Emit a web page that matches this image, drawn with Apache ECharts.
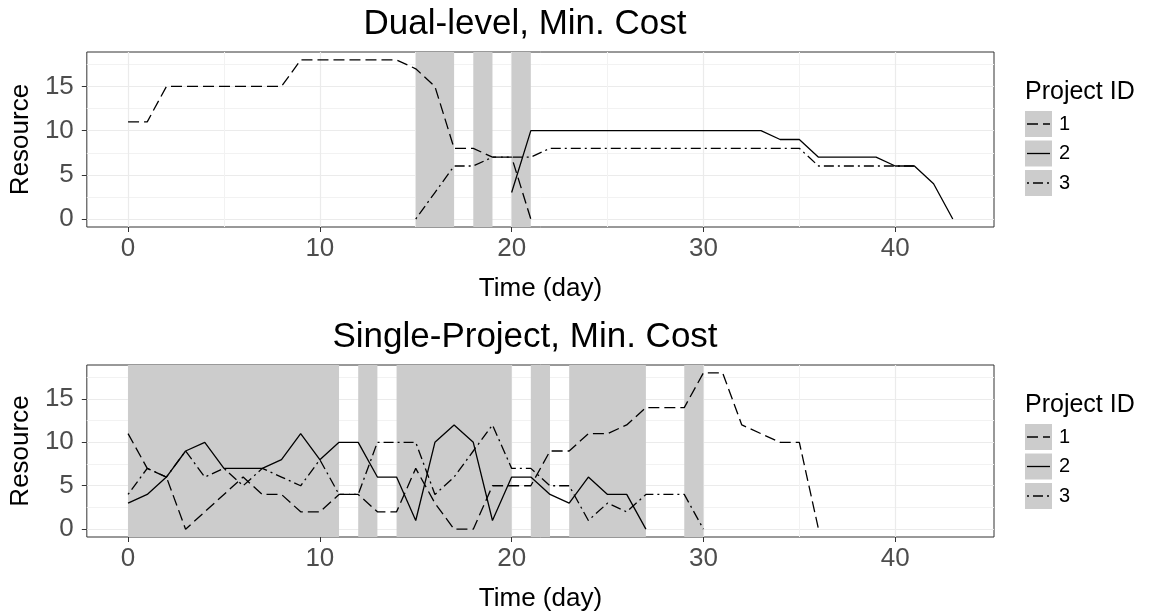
<!DOCTYPE html>
<html>
<head>
<meta charset="utf-8">
<script src="https://cdn.jsdelivr.net/npm/echarts@6/dist/echarts.min.js"></script>
<style>
  html, body { margin: 0; padding: 0; background: #fff; }
  #chart { width: 1151px; height: 613px; }
</style>
</head>
<body>
<div id="chart"></div>
<script>
// Panel titles
const panelTitles = ['Dual-level, Min. Cost', 'Single-Project, Min. Cost'];
const projectIds = ['1', '2', '3'];

// Axis ticks
const xTicks = [0, 10, 20, 30, 40];
const xMinorTicks = [5, 15, 25, 35];
const yTicks = [0, 5, 10, 15];
const yMinorTicks = [2.5, 7.5, 12.5, 17.5];
const xRange = [-2.15, 45.15];
const yRange = [-0.9, 18.9];

// Dual-level schedule: first day of each project and its daily resource
const dualStart = [0, 20, 15];
const dualRes1 = [11, 11, 15, 15, 15, 15, 15, 15, 15, 18, 18, 18, 18, 18, 18, 17, 15, 8, 8, 7, 7, 0];
const dualRes2 = [3, 10, 10, 10, 10, 10, 10, 10, 10, 10, 10, 10, 10, 10, 9, 9, 7, 7, 7, 7, 6, 6, 4, 0];
const dualRes3 = [0, 3, 6, 6, 7, 7, 7, 8, 8, 8, 8, 8, 8, 8, 8, 8, 8, 8, 8, 8, 8, 6, 6, 6, 6, 6, 6];
const dualShadeStart = [15, 18, 20];
const dualShadeEnd = [17, 19, 21];

// Single-project schedule
const singleStart = [0, 0, 0];
const singleRes1 = [11, 7, 6, 0, 2, 4, 6, 4, 4, 2, 2, 4, 4, 2, 2, 7, 3, 0, 0, 5, 5, 5, 9, 9, 11, 11, 12, 14, 14, 14, 18, 18, 12, 11, 10, 10, 0];
const singleRes2 = [3, 4, 6, 9, 10, 7, 7, 7, 8, 11, 8, 10, 10, 6, 6, 1, 10, 12, 10, 1, 6, 6, 4, 3, 6, 4, 4, 0];
const singleRes3 = [4, 7, 6, 9, 6, 7, 5, 7, 6, 5, 8, 4, 4, 10, 10, 10, 4, 6, 9, 12, 7, 7, 5, 5, 1, 3, 2, 4, 4, 4, 0];
const singleShadeStart = [0, 12, 14, 21, 23, 29];
const singleShadeEnd = [11, 13, 20, 22, 27, 30];

// Line patterns per project: dashed, solid, dot-dash
const dashPatterns = [[11, 5], 'solid', [2, 4, 10, 4]];

const FONT = '"Liberation Sans", Arial, Helvetica, sans-serif';
const panels = [
  { top: 52, height: 175, starts: dualStart, res: [dualRes1, dualRes2, dualRes3], s0: dualShadeStart, s1: dualShadeEnd },
  { top: 365, height: 174, starts: singleStart, res: [singleRes1, singleRes2, singleRes3], s0: singleShadeStart, s1: singleShadeEnd }
];
const gridLeft = 86, gridWidth = 908;

const grids = [], xAxes = [], yAxes = [], series = [], titles = [], graphics = [];

panels.forEach((p, g) => {
  grids.push({ left: gridLeft, top: p.top, width: gridWidth, height: p.height,
    show: true, borderColor: '#333333', borderWidth: 1, backgroundColor: 'transparent' });

  titles.push({ text: panelTitles[g], left: 520, textAlign: 'center',
    top: p.top - 50, textStyle: { fontFamily: FONT, fontSize: 35, fontWeight: 'normal', color: '#000' } });

  const xi = xAxes.length;
  // major axis (carries data)
  xAxes.push({ type: 'value', gridIndex: g, min: xRange[0], max: xRange[1], position: 'bottom',
    axisLine: { show: false, onZero: false },
    axisTick: { show: true, length: 5, lineStyle: { color: '#333333' }, customValues: xTicks },
    axisLabel: { show: true, margin: 9, fontFamily: FONT, fontSize: 26, color: '#4D4D4D', customValues: xTicks },
    splitLine: { show: true, lineStyle: { color: '#EBEBEB', width: 1.2 } },
    name: 'Time (day)', nameLocation: 'middle', nameGap: 49,
    nameTextStyle: { fontFamily: FONT, fontSize: 26, color: '#000' } });
  // minor grid lines
  xAxes.push({ type: 'value', gridIndex: g, min: xRange[0], max: xRange[1], position: 'bottom',
    axisLine: { show: false, onZero: false }, axisLabel: { show: false },
    axisTick: { show: false, customValues: xMinorTicks },
    splitLine: { show: true, lineStyle: { color: '#F2F2F2', width: 1 } } });

  const yi = yAxes.length;
  yAxes.push({ type: 'value', gridIndex: g, min: yRange[0], max: yRange[1], position: 'left',
    axisLine: { show: false, onZero: false },
    axisTick: { show: true, length: 5, lineStyle: { color: '#333333' }, customValues: yTicks },
    axisLabel: { show: true, margin: 13, fontFamily: FONT, fontSize: 26, color: '#4D4D4D', customValues: yTicks },
    splitLine: { show: true, lineStyle: { color: '#EBEBEB', width: 1.2 } },
    name: 'Resource', nameLocation: 'middle', nameGap: 50,
    nameTextStyle: { fontFamily: FONT, fontSize: 26, color: '#000' } });
  yAxes.push({ type: 'value', gridIndex: g, min: yRange[0], max: yRange[1], position: 'left',
    axisLine: { show: false, onZero: false }, axisLabel: { show: false },
    axisTick: { show: false, customValues: yMinorTicks },
    splitLine: { show: true, lineStyle: { color: '#F2F2F2', width: 1 } } });

  // shaded periods
  series.push({ type: 'line', xAxisIndex: xi, yAxisIndex: yi, data: [], z: 1, silent: true,
    markArea: { silent: true, itemStyle: { color: '#CCCCCC', opacity: 1 },
      data: p.s0.map((s, k) => [{ xAxis: s }, { xAxis: p.s1[k] }]) } });

  // resource profiles
  p.res.forEach((vals, k) => {
    series.push({ type: 'line', name: projectIds[k], xAxisIndex: xi, yAxisIndex: yi, z: 3,
      showSymbol: false, symbol: 'none', silent: true,
      lineStyle: { color: '#000', width: 1.3, type: dashPatterns[k] },
      data: vals.map((v, i) => [p.starts[k] + i, v]) });
  });

  // legend: "Project ID" with grey keys
  const lx = 1025, ly = p.top + 41;
  graphics.push({ type: 'text', left: lx, top: ly - 13,
    style: { text: 'Project ID', font: '25px ' + FONT, fill: '#000' } });
  projectIds.forEach((id, k) => {
    const ky = ly + 18 + k * 29.5;
    graphics.push({ type: 'rect', shape: { x: lx, y: ky, width: 27, height: 26 }, style: { fill: '#CCCCCC' } });
    graphics.push({ type: 'line', shape: { x1: lx + 2, y1: ky + 13, x2: lx + 25, y2: ky + 13 },
      style: { stroke: '#000', lineWidth: 1.3, lineDash: dashPatterns[k] === 'solid' ? null : dashPatterns[k] } });
    graphics.push({ type: 'text', x: lx + 34, y: ky + 13,
      style: { text: id, font: '20px ' + FONT, fill: '#000', textVerticalAlign: 'middle' } });
  });
});

const chart = echarts.init(document.getElementById('chart'), null, { renderer: 'canvas' });
chart.setOption({
  animation: false,
  backgroundColor: '#fff',
  title: titles,
  grid: grids,
  xAxis: xAxes,
  yAxis: yAxes,
  series: series,
  graphic: graphics
});
</script>
</body>
</html>
